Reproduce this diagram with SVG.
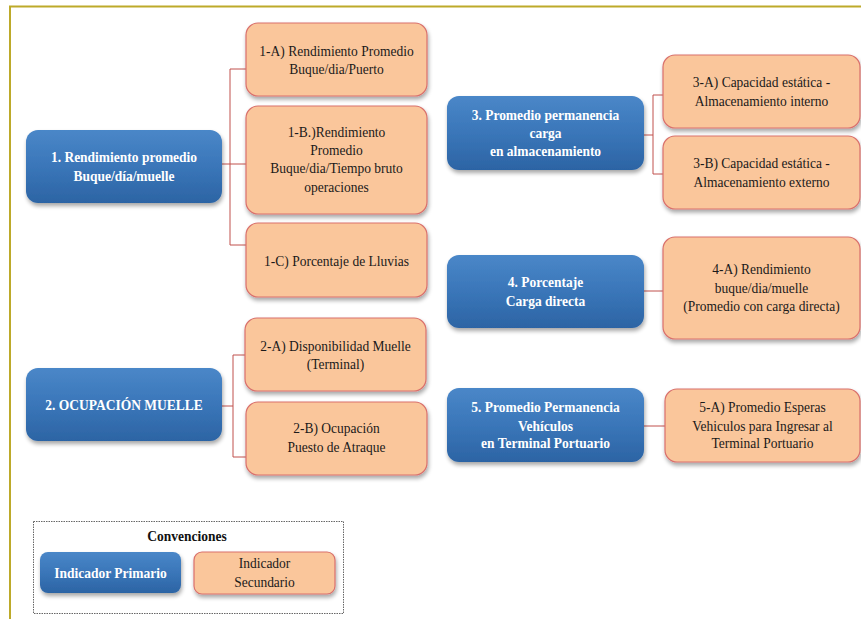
<svg xmlns="http://www.w3.org/2000/svg" width="861" height="619" viewBox="0 0 861 619" font-family="Liberation Serif, serif">
<defs>
<linearGradient id="gb" x1="0" y1="0" x2="0" y2="1">
<stop offset="0" stop-color="#4a87c8"/>
<stop offset="0.5" stop-color="#3a76b9"/>
<stop offset="1" stop-color="#2c64a4"/>
</linearGradient>
<filter id="sh" x="-10%" y="-10%" width="125%" height="135%">
<feGaussianBlur in="SourceAlpha" stdDeviation="2"/>
<feOffset dx="1" dy="3" result="b"/>
<feComponentTransfer><feFuncA type="linear" slope="0.35"/></feComponentTransfer>
<feMerge><feMergeNode/><feMergeNode in="SourceGraphic"/></feMerge>
</filter>
</defs>
<style>
.p{fill:url(#gb);filter:url(#sh)}
.s{fill:#fac69b;stroke:#d9706c;stroke-width:1.2;filter:url(#sh)}
text{font-family:'Liberation Serif',serif;text-anchor:middle;font-size:15px}
.tp text{font-weight:bold;fill:#ffffff}
.ts text{fill:#1a1a1a}
.c{fill:none;stroke:#c0504d;stroke-width:1}
</style>
<rect width="861" height="619" fill="#ffffff"/>
<path d="M10,619 V6.5 H861" fill="none" stroke="#bdaa2a" stroke-width="2"/>

<g id="connectors">
<path class="c" d="M222,164 H230 M230,69 V245 M230,69 H246 M230,245 H246 M230,164 H246"/>
<path class="c" d="M222,406 H233 M233,355 V457 M233,355 H245 M233,457 H246"/>
<path class="c" d="M644,135 H653 M653,95 V174 M653,95 H663 M653,174 H663"/>
<path class="c" d="M644,291 H663"/>
<path class="c" d="M644,426 H665"/>
</g>

<g id="n1">
<rect class="p" x="26" y="130" width="196" height="73" rx="12"/>
<g class="tp" transform="translate(124 0) scale(0.9 1)">
<text x="0" y="162">1. Rendimiento promedio</text>
<text x="0" y="181">Buque/día/muelle</text>
</g>
</g>
<g id="n1a">
<rect class="s" x="246" y="23" width="181" height="73" rx="12"/>
<g class="ts" transform="translate(336.5 0) scale(0.9 1)">
<text x="0" y="56">1-A) Rendimiento  Promedio</text>
<text x="0" y="74">Buque/dia/Puerto</text>
</g>
</g>
<g id="n1b">
<rect class="s" x="246" y="106" width="181" height="108" rx="12"/>
<g class="ts" transform="translate(336.5 0) scale(0.9 1)">
<text x="0" y="137">1-B.)Rendimiento</text>
<text x="0" y="155">Promedio</text>
<text x="0" y="173">Buque/dia/Tiempo  bruto</text>
<text x="0" y="192">operaciones</text>
</g>
</g>
<g id="n1c">
<rect class="s" x="246" y="223" width="181" height="74" rx="12"/>
<g class="ts" transform="translate(336.5 0) scale(0.9 1)">
<text x="0" y="266">1-C) Porcentaje de Lluvias</text>
</g>
</g>

<g id="n2">
<rect class="p" x="26" y="368" width="196" height="73" rx="12"/>
<g class="tp" transform="translate(124 0) scale(0.9 1)">
<text x="0" y="410">2. OCUPACIÓN MUELLE</text>
</g>
</g>
<g id="n2a">
<rect class="s" x="245" y="318" width="181" height="73" rx="12"/>
<g class="ts" transform="translate(335.5 0) scale(0.9 1)">
<text x="0" y="351">2-A) Disponibilidad  Muelle</text>
<text x="0" y="369">(Terminal)</text>
</g>
</g>
<g id="n2b">
<rect class="s" x="246" y="402" width="181" height="73" rx="12"/>
<g class="ts" transform="translate(336.5 0) scale(0.9 1)">
<text x="0" y="433">2-B) Ocupación</text>
<text x="0" y="452">Puesto de Atraque</text>
</g>
</g>

<g id="n3">
<rect class="p" x="447" y="96" width="197" height="74" rx="12"/>
<g class="tp" transform="translate(545.5 0) scale(0.9 1)">
<text x="0" y="120">3. Promedio permanencia</text>
<text x="0" y="138">carga</text>
<text x="0" y="156">en almacenamiento</text>
</g>
</g>
<g id="n3a">
<rect class="s" x="663" y="55" width="197" height="73" rx="12"/>
<g class="ts" transform="translate(761.5 0) scale(0.9 1)">
<text x="0" y="87">3-A) Capacidad estática -</text>
<text x="0" y="106">Almacenamiento  interno</text>
</g>
</g>
<g id="n3b">
<rect class="s" x="663" y="136" width="197" height="73" rx="12"/>
<g class="ts" transform="translate(761.5 0) scale(0.9 1)">
<text x="0" y="168">3-B) Capacidad estática -</text>
<text x="0" y="187">Almacenamiento  externo</text>
</g>
</g>

<g id="n4">
<rect class="p" x="447" y="255" width="197" height="73" rx="12"/>
<g class="tp" transform="translate(545.5 0) scale(0.9 1)">
<text x="0" y="287">4. Porcentaje</text>
<text x="0" y="306">Carga directa</text>
</g>
</g>
<g id="n4a">
<rect class="s" x="663" y="237" width="197" height="102" rx="12"/>
<g class="ts" transform="translate(761.5 0) scale(0.9 1)">
<text x="0" y="274">4-A) Rendimiento</text>
<text x="0" y="293">buque/dia/muelle</text>
<text x="0" y="311">(Promedio  con carga directa)</text>
</g>
</g>

<g id="n5">
<rect class="p" x="447" y="388" width="197" height="74" rx="12"/>
<g class="tp" transform="translate(545.5 0) scale(0.9 1)">
<text x="0" y="412">5. Promedio Permanencia</text>
<text x="0" y="431">Vehículos</text>
<text x="0" y="448">en Terminal  Portuario</text>
</g>
</g>
<g id="n5a">
<rect class="s" x="665" y="389" width="195" height="73" rx="12"/>
<g class="ts" transform="translate(762.5 0) scale(0.9 1)">
<text x="0" y="412">5-A) Promedio  Esperas</text>
<text x="0" y="431">Vehiculos  para Ingresar al</text>
<text x="0" y="448">Terminal  Portuario</text>
</g>
</g>

<g id="legend">
<rect x="33.5" y="521.5" width="310" height="92" fill="#ffffff" stroke="#666666" stroke-width="1" stroke-dasharray="1.5,1"/>
<g transform="translate(187 0) scale(0.9 1)">
<text x="0" y="541" font-weight="bold" fill="#111">Convenciones</text>
</g>
<rect class="p" x="40" y="552" width="141" height="41" rx="8"/>
<g class="tp" transform="translate(110.5 0) scale(0.9 1)">
<text x="0" y="578">Indicador  Primario</text>
</g>
<rect class="s" x="194" y="552" width="141" height="42" rx="8"/>
<g class="ts" transform="translate(264.5 0) scale(0.9 1)">
<text x="0" y="568">Indicador</text>
<text x="0" y="587">Secundario</text>
</g>
</g>
</svg>
